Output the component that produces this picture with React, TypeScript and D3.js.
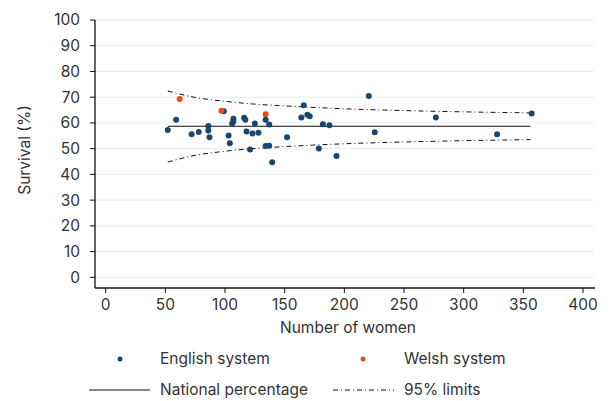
import React from 'react';
import * as d3 from 'd3';

// English systems: number of women, survival (%)
const englishN = [52, 59, 72, 78, 86, 86, 87, 99, 103, 104, 106, 107, 107, 116, 117, 118, 121, 123, 125, 128, 134, 134, 137, 137, 139.5, 152, 164, 166, 169, 171, 178.6, 182, 187.5, 193.4, 220.5, 225.5, 276.7, 328, 357];
const englishSurv = [57.2, 61.2, 55.6, 56.5, 58.8, 57.1, 54.4, 64.5, 55.1, 52.1, 59.8, 61.6, 60.6, 62.0, 61.2, 56.7, 49.7, 55.9, 59.8, 56.2, 61.2, 51.0, 59.4, 51.1, 44.7, 54.4, 62.1, 66.9, 63.2, 62.6, 50.1, 59.5, 59.1, 47.1, 70.5, 56.4, 62.1, 55.6, 63.7];

// Welsh systems
const welshN = [62, 97, 134];
const welshSurv = [69.3, 64.7, 63.4];

// national percentage line
const nationalN = [52, 356];
const nationalPct = 58.7;

// 95% limits
const limitN = [52, 75, 100, 125, 150, 200, 250, 300, 356];
const limitUpper = [72.4, 69.9, 68.4, 67.3, 66.6, 65.5, 64.8, 64.3, 63.9];
const limitLower = [44.8, 47.4, 49.0, 50.1, 50.8, 51.9, 52.6, 53.1, 53.5];

const xTicks = [0, 50, 100, 150, 200, 250, 300, 350, 400];
const yTicks = [0, 10, 20, 30, 40, 50, 60, 70, 80, 90, 100];

const blue = '#1a476f';
const orange = '#ee4b14';
const textColor = '#333333';
const font = 'Inter, "Noto Sans", sans-serif';
const fs = 15.5;

export default function App() {
  const width = 610;
  const height = 401;
  const x = d3.scaleLinear().domain([0, 400]).range([105.7, 583]);
  const y = d3.scaleLinear().domain([0, 100]).range([277.3, 20]);
  const axisLeft = 95;
  const axisBottom = 288;
  const plotRight = 594;

  const limitLine = (vals: number[]) =>
    d3
      .line<number>()
      .x((_, i) => x(limitN[i]))
      .y((d) => y(d))
      .curve(d3.curveMonotoneX)(vals) || '';

  return (
    <svg
      width={width}
      height={height}
      style={{ position: 'absolute', left: 0, top: 0, background: '#fff' }}
      fontFamily={font}
    >
      {/* gridlines */}
      {yTicks.map((t) => (
        <line key={'g' + t} x1={axisLeft} x2={plotRight} y1={y(t)} y2={y(t)} stroke="#e6eeee" strokeWidth={1} />
      ))}

      {/* 95% limits */}
      <path d={limitLine(limitUpper)} fill="none" stroke="#111" strokeWidth={1} strokeDasharray="5,3,1,3" />
      <path d={limitLine(limitLower)} fill="none" stroke="#111" strokeWidth={1} strokeDasharray="5,3,1,3" />

      {/* national percentage */}
      <line
        x1={x(nationalN[0])}
        x2={x(nationalN[1])}
        y1={y(nationalPct)}
        y2={y(nationalPct)}
        stroke="#111"
        strokeWidth={1.2}
      />

      {englishN.map((n, i) => (
        <circle key={'e' + i} cx={x(n)} cy={y(englishSurv[i])} r={3} fill={blue} />
      ))}
      {welshN.map((n, i) => (
        <circle key={'w' + i} cx={x(n)} cy={y(welshSurv[i])} r={3} fill={orange} />
      ))}

      {/* axes */}
      <line x1={axisLeft} x2={axisLeft} y1={y(100)} y2={axisBottom} stroke="#111" strokeWidth={1.3} />
      <line x1={axisLeft} x2={plotRight + 1} y1={axisBottom} y2={axisBottom} stroke="#111" strokeWidth={1.3} />

      {yTicks.map((t) => (
        <g key={'yt' + t}>
          <line x1={axisLeft - 5} x2={axisLeft} y1={y(t)} y2={y(t)} stroke="#111" strokeWidth={1} />
          <text x={80} y={y(t)} dy="0.35em" textAnchor="end" fontSize={fs} fill={textColor}>
            {t}
          </text>
        </g>
      ))}
      {xTicks.map((t) => (
        <g key={'xt' + t}>
          <line x1={x(t)} x2={x(t)} y1={axisBottom} y2={axisBottom + 5} stroke="#111" strokeWidth={1} />
          <text x={x(t)} y={305} dy="0.35em" textAnchor="middle" fontSize={fs} fill={textColor}>
            {t}
          </text>
        </g>
      ))}

      <text x={348} y={328} dy="0.35em" textAnchor="middle" fontSize={fs} fill={textColor}>
        Number of women
      </text>
      <text
        transform={`translate(25,${150}) rotate(-90)`}
        dy="0.35em"
        textAnchor="middle"
        fontSize={fs}
        fill={textColor}
      >
        Survival (%)
      </text>

      {/* legend */}
      <circle cx={120} cy={359} r={2.5} fill={blue} />
      <text x={160} y={359} dy="0.35em" fontSize={fs} fill={textColor}>English system</text>
      <circle cx={363} cy={359} r={2.5} fill={orange} />
      <text x={404} y={359} dy="0.35em" fontSize={fs} fill={textColor}>Welsh system</text>

      <line x1={89} x2={150} y1={390} y2={390} stroke="#111" strokeWidth={1.2} />
      <text x={160} y={390} dy="0.35em" fontSize={fs} fill={textColor}>National percentage</text>
      <line x1={333} x2={394} y1={390} y2={390} stroke="#111" strokeWidth={1} strokeDasharray="5,3,1,3" />
      <text x={404} y={390} dy="0.35em" fontSize={fs} fill={textColor}>95% limits</text>
    </svg>
  );
}
